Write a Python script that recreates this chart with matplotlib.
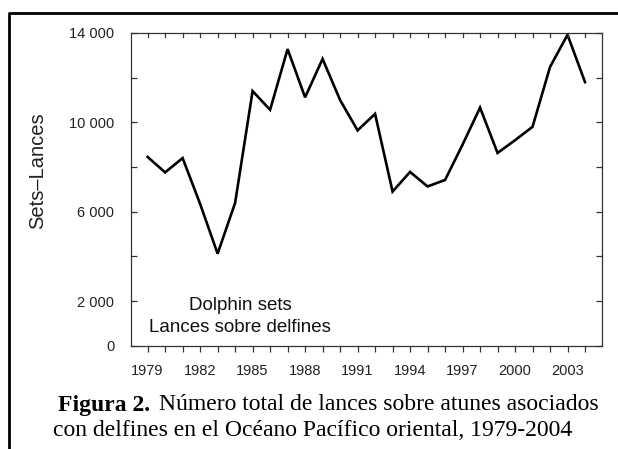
import matplotlib
matplotlib.use("Agg")
import matplotlib.pyplot as plt
from matplotlib.lines import Line2D
from matplotlib.ticker import FixedLocator, FuncFormatter

years = list(range(1979, 2005))
sets = [8450, 7760, 8400, 6350, 4120, 6390, 11400, 10560, 13280, 11120, 12840,
        11000, 9640, 10380, 6900, 7780, 7130, 7420, 9000, 10660, 8630, 9200,
        9800, 12480, 13920, 11800]
year_labels = [1979, 1982, 1985, 1988, 1991, 1994, 1997, 2000, 2003]
y_major = [0, 2000, 6000, 10000, 14000]
y_minor = [4000, 8000, 12000]

W, H = 618, 449
fig = plt.figure(figsize=(W / 100, H / 100), dpi=100)
ax_left, ax_right, ax_top, ax_bot = 131, 602, 33, 345.7
ax = fig.add_axes([ax_left / W, 1 - ax_bot / H, (ax_right - ax_left) / W, (ax_bot - ax_top) / H])

ax.plot(years, sets, color="black", lw=1.9, solid_joinstyle="miter")
ax.set_xlim(1978.05, 2004.97)
ax.set_ylim(0, 14000)

sans = "Liberation Sans"
serif = "Liberation Serif"

for s in ax.spines.values():
    s.set_color("#333333")
    s.set_linewidth(0.9)

ax.yaxis.set_major_locator(FixedLocator(y_major))
ax.yaxis.set_minor_locator(FixedLocator(y_minor))
ax.yaxis.set_major_formatter(FuncFormatter(lambda v, p: f"{int(v):,}".replace(",", " ")))
ax.tick_params(axis="y", which="both", direction="in", left=True, right=True,
               length=4, width=0.9, color="#333333", pad=12)
ax.set_xticks(years)
ax.set_xticklabels([str(y) if y in year_labels else "" for y in years])
ax.tick_params(axis="x", which="both", direction="out", bottom=True, top=False,
               length=4, width=0.9, color="#333333", pad=9)
for lab in ax.get_xticklabels() + ax.get_yticklabels():
    lab.set_fontfamily(sans)
    lab.set_fontsize(10.5)
    lab.set_color("#222222")

# top inward ticks
for y in years:
    ax.plot([y, y], [1, 1 - 4 / (ax_bot - ax_top)], transform=ax.get_xaxis_transform(),
            color="#333333", lw=0.9, clip_on=False)

ax.set_ylabel("Sets–Lances", fontfamily=sans, fontsize=14.5, color="#222222")
ax.yaxis.set_label_coords((47 - ax_left) / (ax_right - ax_left),
                          (ax_bot - 171) / (ax_bot - ax_top))

ax.text((240 - ax_left) / (ax_right - ax_left), (ax_bot - 306) / (ax_bot - ax_top),
        "Dolphin sets", transform=ax.transAxes, ha="center", va="center",
        fontfamily=sans, fontsize=13.5, color="#111111")
ax.text((240 - ax_left) / (ax_right - ax_left), (ax_bot - 327) / (ax_bot - ax_top),
        "Lances sobre delfines", transform=ax.transAxes, ha="center",
        va="center", fontfamily=sans, fontsize=13.5, color="#111111")

# caption line 1 with bold part
t1 = fig.text(58 / W, 1 - 405 / H, "Figura 2.", ha="left", va="center",
              fontfamily=serif, fontweight="bold", fontsize=17)
fig.canvas.draw()
bb = t1.get_window_extent()
fig.text((bb.x1 + 9) / W, 1 - 405 / H, "Número total de lances sobre atunes asociados",
         ha="left", va="center", fontfamily=serif, fontsize=17)
fig.text(313 / W, 1 - 430 / H, "con delfines en el Océano Pacífico oriental, 1979-2004",
         ha="center", va="center", fontfamily=serif, fontsize=17)

# outer frame (left and top edges)
fig.add_artist(Line2D([8.5 / W, 8.5 / W, 1.0], [0, 1 - 12.5 / H, 1 - 12.5 / H],
                      transform=fig.transFigure, color="black", lw=2))

fig.savefig("out.png", dpi=100)
